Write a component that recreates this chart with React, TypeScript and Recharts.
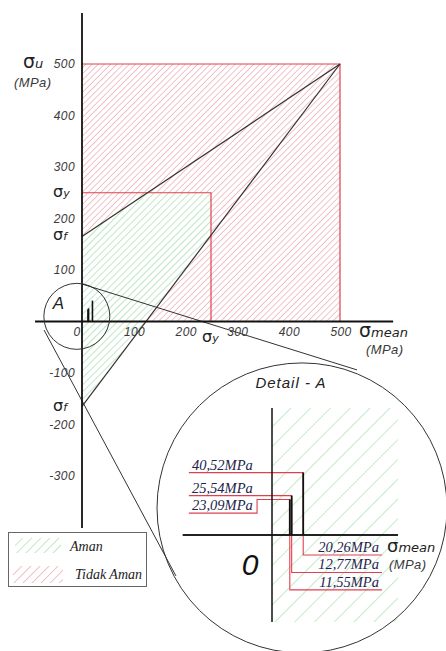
import React from 'react';
import { ComposedChart, Area, Line, XAxis, YAxis, ReferenceDot } from 'recharts';

// Diagram parameters (MPa)
const SIGMA_U = 500;
const SIGMA_Y = 250;
const SIGMA_F = 165;

const X_TICKS = [100, 200, 300, 400, 500];
const Y_TICKS = [500, 400, 300, 200, 100, -100, -200, -300];

// Stress points: mean and amplitude (MPa)
const SIGMA_MEAN = [11.55, 12.77, 20.26];
const SIGMA_AMP = [23.09, 25.54, 40.52];
const MEAN_LABELS = ['11,55MPa', '12,77MPa', '20,26MPa'];
const AMP_LABELS = ['23,09MPa', '25,54MPa', '40,52MPa'];

const LEGEND_ITEMS = ['Aman', 'Tidak Aman'];

// ---- derived geometry ----
const upSlope = (SIGMA_U - SIGMA_F) / SIGMA_U;
const loSlope = (SIGMA_U + SIGMA_F) / SIGMA_U;
const lower = (x: number) => -SIGMA_F + loSlope * x;
const xGY = (SIGMA_Y - SIGMA_F) / upSlope;

const redData = [
  { x: 0, r: [0, SIGMA_U] },
  { x: SIGMA_U, r: [0, SIGMA_U] },
];
const greenData = [
  { x: 0, r: [-SIGMA_F, SIGMA_F] },
  { x: xGY, r: [lower(xGY), SIGMA_Y] },
  { x: SIGMA_Y, r: [lower(SIGMA_Y), SIGMA_Y] },
];
const goodman = [{ x: 0, y: SIGMA_F }, { x: SIGMA_U, y: SIGMA_U }];
const lowerLine = [{ x: 0, y: -SIGMA_F }, { x: SIGMA_U, y: SIGMA_U }];
const squareOutline = [{ x: 0, y: SIGMA_U }, { x: SIGMA_U, y: SIGMA_U }, { x: SIGMA_U, y: 0 }];
const yieldOutline = [{ x: 0, y: SIGMA_Y }, { x: SIGMA_Y, y: SIGMA_Y }, { x: SIGMA_Y, y: 0 }];

const X_DOMAIN = [-158.91, 705.43];
const Y_DOMAIN = [-639.81, 624.27];
const xAxisLine = [{ x: -91, y: 0 }, { x: 603, y: 0 }];
const yAxisLine = [{ x: 0, y: -401 }, { x: 0, y: 599 }];

// callout (detail A)
const SMALL_C = { x: -10, y: 10 };
const BIG_C = { x: 426.4, y: -362 };
const calloutUpper = [{ x: 0, y: 72.8 }, { x: 533, y: -94 }];
const calloutLower = [{ x: -73.6, y: -16.5 }, { x: 182, y: -494 }];

// detail chart
const D_X_DOMAIN = [-74.68, 112.99];
const D_Y_DOMAIN = [-75.32, 111.69];
const D_LEFT = -58;
const D_RIGHT = 81.8;
const D_TOP = 82.5;
const D_BOTTOM = -56.5;
const dHatch = [
  { x: 0, r: [D_BOTTOM, D_TOP] },
  { x: D_RIGHT, r: [D_BOTTOM, D_TOP] },
];
const dXAxis = [{ x: D_LEFT, y: 0 }, { x: D_RIGHT, y: 0 }];
const dYAxis = [{ x: 0, y: D_BOTTOM }, { x: 0, y: D_TOP }];

const LEAD_START = -54;
const TEXT_LEFT = -52;
const JOG_X = -9.7;
const LEAD_END = 71.4;
const ROW_GAP = 11.3;
const FIRST_BOTTOM = -13;

const order = SIGMA_AMP.map((_, i) => i).sort((a, b) => SIGMA_AMP[b] - SIGMA_AMP[a]);
const topY: number[] = [];
const botY: number[] = [];
{
  let prev = Infinity;
  order.forEach((i, k) => {
    const y = Math.min(SIGMA_AMP[i], prev - ROW_GAP);
    topY[i] = y;
    prev = y;
    botY[i] = FIRST_BOTTOM - k * ROW_GAP;
  });
}
const leaders = SIGMA_AMP.map((a, i) => {
  const pts: { x: number; y: number }[] = [{ x: LEAD_START, y: topY[i] }];
  if (topY[i] !== a) {
    pts.push({ x: JOG_X, y: topY[i] });
    pts.push({ x: JOG_X, y: a });
  }
  pts.push({ x: SIGMA_MEAN[i], y: a });
  pts.push({ x: SIGMA_MEAN[i], y: botY[i] });
  pts.push({ x: LEAD_END, y: botY[i] });
  return pts;
});
const bars = SIGMA_MEAN.map((m, i) => [{ x: m, y: 0 }, { x: m, y: SIGMA_AMP[i] }]);

const RED = '#e0404e';
const RED_HATCH = '#e99aa5';
const GREEN_HATCH = '#9fdaa6';
const TICK_STYLE: React.CSSProperties = {
  fontFamily: 'Liberation Sans, Arial, sans-serif',
  fontStyle: 'italic',
  fontSize: 12,
  fill: '#3a3a3a',
  letterSpacing: 0.4,
};
const SIG_STYLE: React.CSSProperties = {
  fontFamily: 'DejaVu Sans, sans-serif',
  fill: '#222',
};
const SERIF: React.CSSProperties = {
  fontFamily: 'Liberation Serif, Times New Roman, serif',
  fontStyle: 'italic',
  fontSize: 14.5,
  fill: '#23234a',
};

const txt =
  (content: React.ReactNode, dx: number, dy: number, style: React.CSSProperties, anchor: string = 'start') =>
  (p: any) => (
    <text x={p.cx + dx} y={p.cy + dy} textAnchor={anchor} style={style}>
      {content}
    </text>
  );

const sigma = (sub: string, big = 17, small = 11) => (
  <>
    <tspan style={{ fontSize: big, fontWeight: 500 }}>σ</tspan>
    <tspan style={{ fontSize: small, fontStyle: 'italic', fontWeight: 400 }}>{sub}</tspan>
  </>
);

const lineProps = { dot: false, activeDot: false, isAnimationActive: false, legendType: 'none' as const };

export default function App() {
  return (
    <div style={{ position: 'absolute', left: 0, top: 0, width: 446, height: 651, background: '#fff', overflow: 'hidden' }}>
      <ComposedChart width={446} height={651} margin={{ top: 0, right: 0, bottom: 0, left: 0 }}>
        <defs>
          <pattern id="redHatch" width="4.4" height="4.4" patternUnits="userSpaceOnUse" patternTransform="rotate(45)">
            <rect width="4.4" height="4.4" fill="#fff" />
            <line x1="0" y1="0" x2="0" y2="4.4" stroke={RED_HATCH} strokeWidth="1.2" />
          </pattern>
          <pattern id="greenHatch" width="5" height="5" patternUnits="userSpaceOnUse" patternTransform="rotate(45)">
            <rect width="5" height="5" fill="#fff" />
            <line x1="0" y1="0" x2="0" y2="5" stroke={GREEN_HATCH} strokeWidth="1.3" />
          </pattern>
        </defs>
        <XAxis type="number" dataKey="x" domain={X_DOMAIN} hide allowDataOverflow />
        <YAxis type="number" domain={Y_DOMAIN} hide allowDataOverflow />

        <Area data={redData} dataKey="r" stroke="none" fill="url(#redHatch)" fillOpacity={1} {...lineProps} />
        <Area data={greenData} dataKey="r" stroke="none" fill="url(#greenHatch)" fillOpacity={1} {...lineProps} />

        <Line data={squareOutline} dataKey="y" stroke={RED} strokeWidth={1.2} {...lineProps} />
        <Line data={yieldOutline} dataKey="y" stroke={RED} strokeWidth={1.2} {...lineProps} />
        <Line data={goodman} dataKey="y" stroke="#333" strokeWidth={1.2} {...lineProps} />
        <Line data={lowerLine} dataKey="y" stroke="#333" strokeWidth={1.2} {...lineProps} />
        <Line data={calloutUpper} dataKey="y" stroke="#333" strokeWidth={1} {...lineProps} />
        <Line data={calloutLower} dataKey="y" stroke="#333" strokeWidth={1} {...lineProps} />
        <Line data={xAxisLine} dataKey="y" stroke="#111" strokeWidth={1.8} {...lineProps} />
        <Line data={yAxisLine} dataKey="y" stroke="#111" strokeWidth={1.8} {...lineProps} />
        {bars.map((b, i) => (
          <Line key={'b' + i} data={b} dataKey="y" stroke="#111" strokeWidth={1.6} {...lineProps} />
        ))}

        <ReferenceDot x={SMALL_C.x} y={SMALL_C.y} r={33} fill="none" stroke="#333" strokeWidth={1} ifOverflow="visible" />
        <ReferenceDot x={BIG_C.x} y={BIG_C.y} r={145} fill="none" stroke="#333" strokeWidth={1} ifOverflow="visible" />

        {X_TICKS.map((v) => (
          <ReferenceDot key={'xt' + v} x={v} y={0} r={1} ifOverflow="visible" shape={txt(String(v), 1, 15, TICK_STYLE, 'middle')} />
        ))}
        <ReferenceDot x={0} y={0} r={1} ifOverflow="visible" shape={txt('0', -5, 15, TICK_STYLE, 'middle')} />
        {Y_TICKS.map((v) => (
          <ReferenceDot key={'yt' + v} x={0} y={v} r={1} ifOverflow="visible" shape={txt(String(v), -7, 4.5, TICK_STYLE, 'end')} />
        ))}

        <ReferenceDot x={0} y={SIGMA_U} r={1} ifOverflow="visible" shape={txt(sigma('u', 19, 13), -59, 4, SIG_STYLE)} />
        <ReferenceDot x={0} y={SIGMA_U} r={1} ifOverflow="visible" shape={txt('(MPa)', -68, 23, { ...TICK_STYLE, fontSize: 13 })} />
        <ReferenceDot x={0} y={SIGMA_Y} r={1} ifOverflow="visible" shape={txt(sigma('y', 16, 11), -29, 4, SIG_STYLE)} />
        <ReferenceDot x={0} y={SIGMA_F} r={1} ifOverflow="visible" shape={txt(sigma('f', 16, 11), -29, 3, SIG_STYLE)} />
        <ReferenceDot x={0} y={-SIGMA_F} r={1} ifOverflow="visible" shape={txt(sigma('f', 16, 11), -29, 5, SIG_STYLE)} />
        <ReferenceDot x={SIGMA_Y} y={0} r={1} ifOverflow="visible" shape={txt(sigma('y', 16, 11), -9, 21, SIG_STYLE)} />
        <ReferenceDot x={SIGMA_U} y={0} r={1} ifOverflow="visible" shape={txt(sigma('mean', 19, 13), 19, 16, SIG_STYLE)} />
        <ReferenceDot x={SIGMA_U} y={0} r={1} ifOverflow="visible" shape={txt('(MPa)', 26, 33, { ...TICK_STYLE, fontSize: 13 })} />
        <ReferenceDot x={SMALL_C.x} y={SMALL_C.y} r={1} ifOverflow="visible" shape={txt('A', -24, -7, { ...TICK_STYLE, fontSize: 17, fill: '#222' })} />
      </ComposedChart>

      <div style={{ position: 'absolute', left: 157, top: 363 }}>
        <ComposedChart width={289} height={288} margin={{ top: 0, right: 0, bottom: 0, left: 0 }}>
          <defs>
            <pattern id="greenHatchBig" width="14" height="14" patternUnits="userSpaceOnUse" patternTransform="rotate(45)">
              <line x1="0" y1="0" x2="0" y2="14" stroke={GREEN_HATCH} strokeWidth="1.2" />
            </pattern>
          </defs>
          <XAxis type="number" dataKey="x" domain={D_X_DOMAIN} hide allowDataOverflow />
          <YAxis type="number" domain={D_Y_DOMAIN} hide allowDataOverflow />
          <Area data={dHatch} dataKey="r" stroke="none" fill="url(#greenHatchBig)" fillOpacity={1} {...lineProps} />
          {leaders.map((l, i) => (
            <Line key={'l' + i} data={l} dataKey="y" stroke={RED} strokeWidth={1.1} {...lineProps} />
          ))}
          <Line data={dXAxis} dataKey="y" stroke="#222" strokeWidth={1.8} {...lineProps} />
          <Line data={dYAxis} dataKey="y" stroke="#111" strokeWidth={1.5} {...lineProps} />
          {bars.map((b, i) => (
            <Line key={'db' + i} data={b} dataKey="y" stroke="#111" strokeWidth={1.8} {...lineProps} />
          ))}

          {AMP_LABELS.map((t, i) => (
            <ReferenceDot key={'al' + i} x={TEXT_LEFT} y={topY[i]} r={1} ifOverflow="visible" shape={txt(t, 0, -3, SERIF)} />
          ))}
          {MEAN_LABELS.map((t, i) => (
            <ReferenceDot key={'ml' + i} x={LEAD_END} y={botY[i]} r={1} ifOverflow="visible" shape={txt(t, -3, -3, SERIF, 'end')} />
          ))}
          <ReferenceDot x={0} y={D_TOP} r={1} ifOverflow="visible" shape={txt('Detail - A', 19, -20, { ...TICK_STYLE, fontSize: 15, fill: '#222', letterSpacing: 1 }, 'middle')} />
          <ReferenceDot x={0} y={0} r={1} ifOverflow="visible" shape={txt('0', -22, 40, { ...TICK_STYLE, fontSize: 30, fill: '#111', letterSpacing: 0 }, 'middle')} />
          <ReferenceDot x={D_RIGHT} y={0} r={1} ifOverflow="visible" shape={txt(sigma('mean', 18, 13), -11, 17, SIG_STYLE)} />
          <ReferenceDot x={D_RIGHT} y={0} r={1} ifOverflow="visible" shape={txt('(MPa)', -9, 34, { ...TICK_STYLE, fontSize: 13 })} />
        </ComposedChart>
      </div>

      <div
        style={{
          position: 'absolute',
          left: 8,
          top: 532,
          width: 139,
          height: 55,
          border: '1px solid #666',
          background: '#fff',
          boxSizing: 'border-box',
        }}
      >
        <svg width={139} height={55} style={{ display: 'block' }}>
          <defs>
            <pattern id="lgG" width="6.4" height="6.4" patternUnits="userSpaceOnUse" patternTransform="rotate(45)">
              <line x1="0" y1="0" x2="0" y2="6.4" stroke={GREEN_HATCH} strokeWidth="1.2" />
            </pattern>
            <pattern id="lgR" width="6.4" height="6.4" patternUnits="userSpaceOnUse" patternTransform="rotate(45)">
              <line x1="0" y1="0" x2="0" y2="6.4" stroke={RED_HATCH} strokeWidth="1.2" />
            </pattern>
          </defs>
          <rect x={6} y={5} width={46} height={15} fill="url(#lgG)" />
          <rect x={4} y={33} width={50} height={17} fill="url(#lgR)" />
          <text x={61} y={18} style={{ ...SERIF, fill: '#222', fontSize: 14 }}>{LEGEND_ITEMS[0]}</text>
          <text x={66} y={46} style={{ ...SERIF, fill: '#222', fontSize: 14 }}>{LEGEND_ITEMS[1]}</text>
        </svg>
      </div>
    </div>
  );
}
